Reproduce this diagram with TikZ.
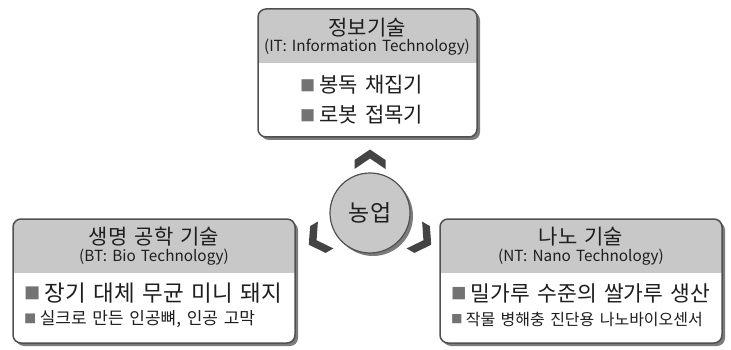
\documentclass[tikz,border=0pt]{standalone}
\usepackage{fontspec}
\setmainfont[WordSpace=1.5]{Noto Sans CJK KR}
\usetikzlibrary{positioning}
\definecolor{mgray}{RGB}{200,200,200}
\definecolor{mdark}{RGB}{68,68,68}
\definecolor{mline}{RGB}{80,80,80}
\definecolor{mbullet}{RGB}{115,115,115}
\definecolor{mtext}{RGB}{30,30,30}
\tikzset{title/.style = {text=mtext, inner sep=0, font=\fontsize{21}{21}\selectfont}}
\tikzset{subtitle/.style = {text=mtext, inner sep=0, font=\fontsize{15.3}{15.3}\selectfont}}
\tikzset{item/.style = {text=mtext, inner sep=0, anchor=west}}
\tikzset{chevron/.style = {fill=mdark}}
\newcommand{\bul}{{\color{mbullet}\raisebox{0.08em}{\scalebox{0.72}{■}}}\hspace{0.2em}}
\newcommand{\techbox}[5]{%
  \fill [mdark!70, rounded corners=8] ({#1+3}, {#2+3}) rectangle ({#3+3}, {#4+3});
  \fill [white, rounded corners=8] (#1, #2) rectangle (#3, #4);
  \begin{scope}
    \clip [rounded corners=8] (#1, #2) rectangle (#3, #4);
    \fill [mgray] (#1, #2) rectangle (#3, #5);
  \end{scope}
  \draw [mline, line width=1.5, rounded corners=8] (#1, #2) rectangle (#3, #4);
}

\begin{document}
\begin{tikzpicture}[x=1pt, y=-1pt]
          \useasboundingbox (0, 0) rectangle (731, 350);
          \techbox{258}{9}{477}{137}{63}
          \techbox{13}{219}{295}{343}{273}
          \techbox{440}{219}{722}{343}{273}

          \node [title] (itTitle) at (367, 28) {정보기술};
          \node [subtitle] (itSub) at (367, 47) {(IT: Information Technology)};
          \node [item, font=\fontsize{21}{21}\selectfont] (itA) at (300, 85) {\bul 봉독 채집기};
          \node [item, font=\fontsize{21}{21}\selectfont] (itB) at (300, 115) {\bul 로봇 접목기};

          \node [title] (btTitle) at (154, 237) {생명 공학 기술};
          \node [subtitle] (btSub) at (154, 257) {(BT: Bio Technology)};
          \node [item, font=\fontsize{22.5}{22.5}\selectfont] (btA) at (24, 293) {\bul 장기 대체 무균 미니 돼지};
          \node [item, font=\fontsize{17}{17}\selectfont] (btB) at (24, 319) {\bul 실크로 만든 인공뼈, 인공 고막};

          \node [title] (ntTitle) at (581, 237) {나노 기술};
          \node [subtitle] (ntSub) at (581, 257) {(NT: Nano Technology)};
          \node [item, font=\fontsize{21.5}{21.5}\selectfont] (ntA) at (451, 293) {\bul 밀가루 수준의 쌀가루 생산};
          \node [item, font=\fontsize{16}{16}\selectfont] (ntB) at (451, 319) {\bul 작물 병해충 진단용 나노바이오센서};

          \fill [mdark!70] (373, 216) circle [radius=40];
          \node [circle, draw=mline, fill=mgray, line width=1.2, minimum size=80, text=mtext,
                 font=\fontsize{23}{23}\selectfont] (farm) at (370, 213) {농업};

          \foreach \cx/\cy/\ang in {370/159/0, 317/240/120, 423/240/-120}
            \fill [chevron, shift={(\cx, \cy)}, rotate=\ang]
              (0, -9.5) -- (15.5, 1) -- (15.5, 10) -- (0, -0.5) -- (-15.5, 10) -- (-15.5, 1) -- cycle;
        \end{tikzpicture}
\end{document}
